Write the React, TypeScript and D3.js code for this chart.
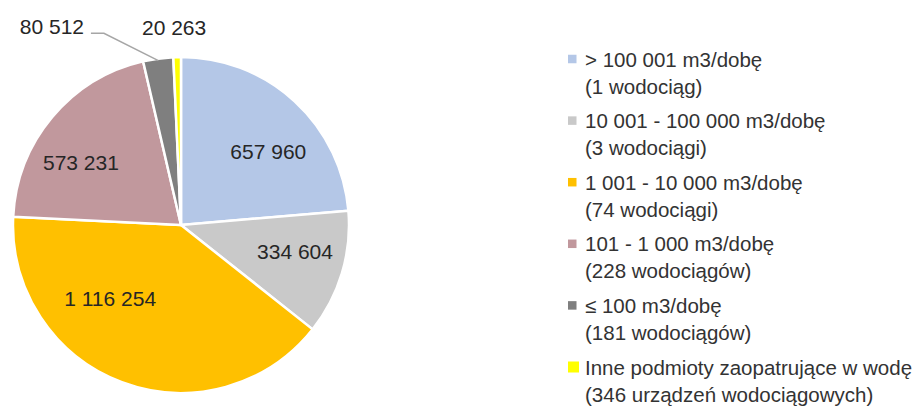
import * as d3 from "d3";
import React from "react";

const categories = [
  "> 100 001 m3/dobę",
  "10 001 - 100 000 m3/dobę",
  "1 001 - 10 000 m3/dobę",
  "101 - 1 000 m3/dobę",
  "≤ 100 m3/dobę",
  "Inne podmioty zaopatrujące w wodę",
];
const subLabels = [
  "(1 wodociąg)",
  "(3 wodociągi)",
  "(74 wodociągi)",
  "(228 wodociągów)",
  "(181 wodociągów)",
  "(346 urządzeń wodociągowych)",
];
const values = [657960, 334604, 1116254, 573231, 80512, 20263];
const colors = ["#B4C7E7", "#C9C9C9", "#FFC000", "#C1989D", "#7F7F7F", "#FFFF00"];

// label placement: angle in degrees (clockwise from 12 o'clock), radius in px
const labelPos = [
  { a: 50, r: 114 },
  { a: 103, r: 117 },
  { a: 224, r: 102 },
  { a: 302, r: 118 },
  { a: 327, r: 237 },
  { a: 358, r: 198 },
];

const width = 914
const height = 408
const cx = 181
const cy = 225
const radius = 168
const font = "'Liberation Sans', Arial, sans-serif"

const fmt = (v: number) => d3.format(",")(v).replace(/,/g, " ")

const polar = (deg: number, r: number): [number, number] => {
  const t = (deg * Math.PI) / 180
  return [Math.sin(t) * r, -Math.cos(t) * r]
}

export function App() {
  const pie = d3.pie<number>().sort(null).value(d => d)
  const arcs = pie(values)
  const arc = d3.arc<d3.PieArcDatum<number>>().innerRadius(0).outerRadius(radius)

  const legendY = d3.scaleLinear().domain([0, categories.length - 1]).range([59, 367])

  // leader line for the small dark-grey slice
  const small = arcs[4]
  const midDeg = ((small.startAngle + small.endAngle) / 2) * 180 / Math.PI
  const edge = polar(midDeg, radius - 2)
  const lbl = polar(labelPos[4].a, labelPos[4].r)
  const leader = d3.line()([
    edge,
    [lbl[0] + 52, lbl[1] + 7],
    [lbl[0] + 39, lbl[1] + 7],
  ])

  return (
    <svg width={width} height={height} style={{ position: "absolute", left: 0, top: 0, background: "#fff" }}>
      <g transform={`translate(${cx}, ${cy})`}>
        {arcs.map((d, i) => (
          <path key={i} d={arc(d) || ""} fill={colors[i]} stroke="#fff" strokeWidth={2.5} strokeLinejoin="round" />
        ))}
        <path d={leader || ""} fill="none" stroke="#A6A6A6" strokeWidth={1.5} />
        {values.map((v, i) => {
          const [x, y] = polar(labelPos[i].a, labelPos[i].r)
          return (
            <text key={i} x={x} y={y} textAnchor="middle" dominantBaseline="central"
              fontFamily={font} fontSize={21} fill="#262626">
              {fmt(v)}
            </text>
          )
        })}
      </g>
      <g fontFamily={font} fontSize={20.5} fill="#333">
        {categories.map((c, i) => {
          const y = legendY(i)
          const s = i === 5 ? 11 : 8.5
          return (
            <g key={i}>
              <rect x={568} y={y - s / 2} width={s} height={s} fill={colors[i]} />
              <text x={585} y={y} dominantBaseline="central">{c}</text>
              <text x={585} y={y + 27} dominantBaseline="central">{subLabels[i]}</text>
            </g>
          )
        })}
      </g>
    </svg>
  );
}

export default App;
